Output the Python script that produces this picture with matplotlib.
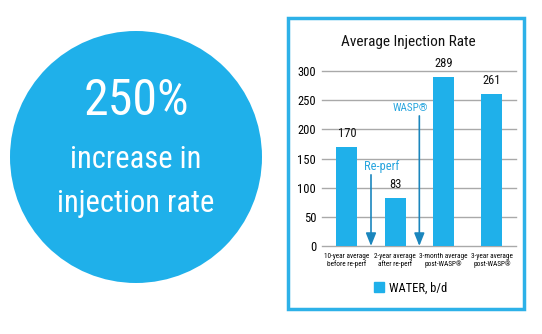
import matplotlib
matplotlib.use("Agg")
import matplotlib.pyplot as plt
from matplotlib import font_manager as fm
from matplotlib.patches import Circle, Rectangle, Patch

# data
categories = ["10-year average\nbefore re-perf", "2-year average\nafter re-perf",
              "3-month average\npost-WASP®", "3-year average\npost-WASP®"]
water = [170, 83, 289, 261]
yticks = [0, 50, 100, 150, 200, 250, 300]

BLUE = "#1fb0ea"
DARK = "#1b86bd"
LABEL_BLUE = "#2aa6de"

# pick a narrow font if one is installed
names = {f.name for f in fm.fontManager.ttflist}
font = "DejaVu Sans"
for cand in ["Liberation Sans Narrow", "Roboto Condensed", "Open Sans Condensed",
             "Noto Sans Condensed", "Arial Narrow"]:
    if cand in names:
        font = cand
        break
plt.rcParams["font.family"] = [font, "DejaVu Sans"]

W, H = 542, 334
fig = plt.figure(figsize=(W / 100, H / 100), dpi=100)

# background layer in pixel units
bg = fig.add_axes([0, 0, 1, 1])
bg.set_xlim(0, W)
bg.set_ylim(H, 0)
bg.axis("off")
bg.add_patch(Circle((136, 157), 126, color=BLUE, lw=0))
bg.text(136, 101, "250%", color="white", fontsize=36, ha="center", va="center")
bg.text(136, 160, "increase in", color="white", fontsize=22, ha="center", va="center")
bg.text(136, 204, "injection rate", color="white", fontsize=22, ha="center", va="center")
bg.add_patch(Rectangle((288, 18), 236, 291, fill=False, ec="#2db1e8", lw=2.5))
bg.text(408, 42, "Average Injection Rate", fontsize=11, ha="center", va="center", color="#111111")

# bar chart
ax = fig.add_axes([321.7 / W, 1 - 246 / H, (516 - 321.7) / W, 175 / H])
ax.set_xlim(-0.52, 3.5)
ax.set_ylim(0, 300)
for s in ax.spines.values():
    s.set_visible(False)
for t in yticks:
    ax.axhline(t, color="#a9a9a9", lw=1, zorder=0, clip_on=False)
x = range(len(water))
ax.bar(x, water, width=0.43, color=BLUE, zorder=2)
for i, v in enumerate(water):
    ax.text(i, v + 12, str(v), ha="center", va="bottom", fontsize=9, color="#111111")

ax.set_yticks(yticks)
ax.set_yticklabels([str(t) for t in yticks], fontsize=9)
ax.set_xticks(list(x))
ax.set_xticklabels(categories, fontsize=5.2, linespacing=1.0)
ax.tick_params(length=0, pad=4)
ax.tick_params(axis="x", pad=5)

# event arrows
arrow = dict(arrowstyle="-|>,head_length=0.55,head_width=0.22", color=DARK,
             lw=1.2, shrinkA=0, shrinkB=0, mutation_scale=14)
ax.annotate("", xy=(0.5, 0), xytext=(0.5, 122), arrowprops=arrow, zorder=3)
ax.annotate("", xy=(1.5, 0), xytext=(1.5, 223), arrowprops=arrow, zorder=3)
ax.text(0.72, 137, "Re-perf", color=LABEL_BLUE, fontsize=9, ha="center", va="center")
ax.text(1.32, 237, "WASP®", color=LABEL_BLUE, fontsize=8, ha="center", va="center")

fig.legend(handles=[Patch(color=BLUE, label="WATER, b/d")], loc="center",
           bbox_to_anchor=(411 / W, 1 - 288 / H), frameon=False, fontsize=9,
           handlelength=0.8, handleheight=0.8, handletextpad=0.4)

fig.savefig("out.png", dpi=100)
